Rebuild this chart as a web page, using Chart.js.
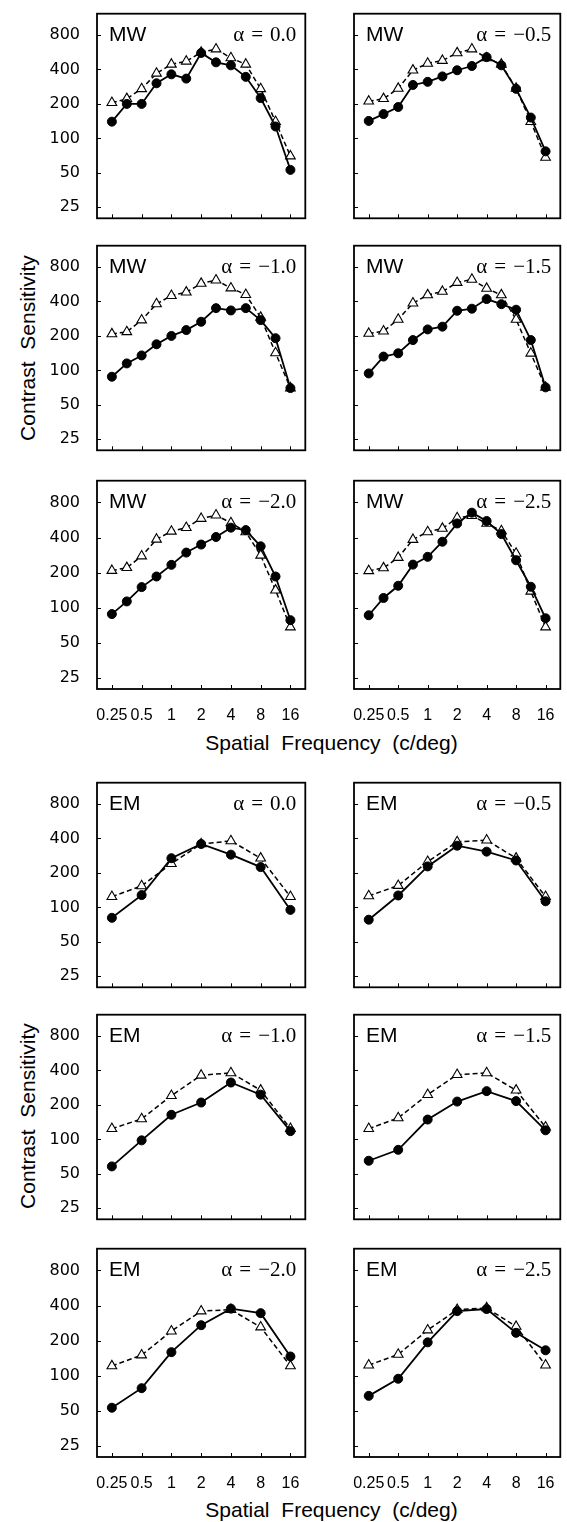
<!DOCTYPE html>
<html>
<head>
<meta charset="utf-8">
<script src="https://cdn.jsdelivr.net/npm/chart.js@4.4.1/dist/chart.umd.min.js"></script>
<style>
  html, body { margin: 0; padding: 0; background: #fff; }
  #fig { position: relative; width: 567px; height: 1522px; background: #fff; overflow: hidden; }
  #fig canvas { position: absolute; }
  .title { position: absolute; font-family: "Liberation Sans", Arial, sans-serif; font-size: 21px; line-height: 24px; color: #000; white-space: nowrap; text-align: center; word-spacing: 6px; }
  .ytitle { width: 300px; height: 24px; transform: rotate(-90deg); }
</style>
</head>
<body>
<div id="fig">
  <div class="title" style="left:97px; width:469px; top:731px;">Spatial Frequency (c/deg)</div>
  <div class="title" style="left:97px; width:469px; top:1498px;">Spatial Frequency (c/deg)</div>
  <div class="title ytitle" style="left:-122px; top:336px;">Contrast Sensitivity</div>
  <div class="title ytitle" style="left:-122px; top:1104px;">Contrast Sensitivity</div>
</div>
<script>
// spatial frequencies (c/deg)
const mwFreqs = [0.25, 0.354, 0.5, 0.707, 1, 1.414, 2, 2.828, 4, 5.657, 8, 11.31, 16];
const emFreqs = [0.25, 0.5, 1, 2, 4, 8, 16];

const xTickValues = [0.25, 0.5, 1, 2, 4, 8, 16];
const xTickLabels = ['0.25', '0.5', '1', '2', '4', '8', '16'];
const yTickValues = [25, 50, 100, 200, 400, 800];

// MW: filled circles (solid line) and open triangles (dashed line)
const mwA00Filled = [140, 200, 200, 303, 363, 333, 558, 462, 435, 345, 225, 127, 53];
const mwA00Open   = [205, 222, 271, 370, 444, 472, 565, 603, 505, 444, 271, 140, 70];
const mwA05Filled = [142, 163, 188, 293, 312, 348, 394, 429, 513, 435, 271, 152, 77];
const mwA05Open   = [211, 222, 273, 394, 452, 479, 558, 603, 505, 444, 273, 140, 68];
const mwA10Filled = [88, 115, 135, 169, 200, 225, 266, 350, 334, 350, 275, 191, 70];
const mwA10Open   = [208, 217, 275, 381, 450, 482, 575, 615, 524, 459, 290, 142, 70];
const mwA15Filled = [94, 132, 141, 184, 228, 241, 332, 346, 420, 379, 339, 184, 71];
const mwA15Open   = [210, 220, 279, 387, 456, 489, 585, 624, 520, 456, 279, 141, 71];
const mwA20Filled = [88, 113, 150, 185, 233, 297, 348, 404, 486, 463, 336, 185, 78];
const mwA20Open   = [208, 220, 277, 386, 452, 486, 582, 622, 534, 447, 281, 141, 68];
const mwA25Filled = [86, 121, 154, 234, 273, 368, 528, 654, 554, 428, 255, 151, 81];
const mwA25Open   = [207, 219, 269, 384, 447, 478, 590, 615, 528, 456, 292, 138, 68];

// EM
const emA00Filled = [81, 128, 269, 358, 289, 225, 95];
const emA00Open   = [124, 154, 241, 358, 381, 269, 124];
const emA05Filled = [78, 127, 228, 346, 307, 257, 113];
const emA05Open   = [126, 155, 251, 374, 387, 269, 124];
const emA10Filled = [58, 98, 164, 210, 314, 246, 118];
const emA10Open   = [124, 151, 241, 363, 381, 269, 124];
const emA15Filled = [65, 81, 149, 214, 264, 216, 120];
const emA15Open   = [124, 154, 246, 368, 381, 269, 128];
const emA20Filled = [53, 78, 159, 271, 376, 344, 146];
const emA20Open   = [121, 150, 241, 358, 368, 261, 121];
const emA25Filled = [67, 94, 193, 358, 373, 233, 165];
const emA25Open   = [123, 152, 246, 368, 381, 264, 123];

const rowTops = [13, 245, 480, 782, 1014, 1248];
const plotH = 209;

const sp = '\u2004';
const panels = [
  { group: 'MW', alpha: '0.0',  row: 0, col: 0, freqs: mwFreqs, filled: mwA00Filled, open: mwA00Open },
  { group: 'MW', alpha: '−0.5', row: 0, col: 1, freqs: mwFreqs, filled: mwA05Filled, open: mwA05Open },
  { group: 'MW', alpha: '−1.0', row: 1, col: 0, freqs: mwFreqs, filled: mwA10Filled, open: mwA10Open },
  { group: 'MW', alpha: '−1.5', row: 1, col: 1, freqs: mwFreqs, filled: mwA15Filled, open: mwA15Open },
  { group: 'MW', alpha: '−2.0', row: 2, col: 0, freqs: mwFreqs, filled: mwA20Filled, open: mwA20Open },
  { group: 'MW', alpha: '−2.5', row: 2, col: 1, freqs: mwFreqs, filled: mwA25Filled, open: mwA25Open },
  { group: 'EM', alpha: '0.0',  row: 3, col: 0, freqs: emFreqs, filled: emA00Filled, open: emA00Open },
  { group: 'EM', alpha: '−0.5', row: 3, col: 1, freqs: emFreqs, filled: emA05Filled, open: emA05Open },
  { group: 'EM', alpha: '−1.0', row: 4, col: 0, freqs: emFreqs, filled: emA10Filled, open: emA10Open },
  { group: 'EM', alpha: '−1.5', row: 4, col: 1, freqs: emFreqs, filled: emA15Filled, open: emA15Open },
  { group: 'EM', alpha: '−2.0', row: 5, col: 0, freqs: emFreqs, filled: emA20Filled, open: emA20Open },
  { group: 'EM', alpha: '−2.5', row: 5, col: 1, freqs: emFreqs, filled: emA25Filled, open: emA25Open }
];

// frame, inward ticks and panel labels
const panelFrame = {
  id: 'panelFrame',
  afterDraw(chart, args, opts) {
    const { ctx, chartArea: a } = chart;
    const x = chart.scales.x, y = chart.scales.y;
    ctx.save();
    ctx.strokeStyle = '#000';
    ctx.lineWidth = 1.8;
    ctx.strokeRect(a.left, a.top, a.right - a.left, a.bottom - a.top);

    ctx.lineWidth = 1;
    ctx.beginPath();
    y.ticks.forEach(t => {
      const py = Math.round(y.getPixelForValue(t.value)) + 0.5;
      ctx.moveTo(a.left, py);
      ctx.lineTo(a.left + 4, py);
    });
    x.ticks.forEach(t => {
      const px = Math.round(x.getPixelForValue(t.value)) + 0.5;
      ctx.moveTo(px, a.bottom);
      ctx.lineTo(px, a.bottom - 4);
    });
    ctx.stroke();

    ctx.fillStyle = '#000';
    ctx.textBaseline = 'alphabetic';
    ctx.textAlign = 'left';
    ctx.font = '21px "Liberation Sans", Arial, sans-serif';
    ctx.fillText(opts.group, a.left + 12, a.top + 27);
    ctx.textAlign = 'right';
    ctx.font = '21px "Liberation Serif", "Times New Roman", serif';
    ctx.fillText('α' + sp + '=' + sp + opts.alpha, a.right - 9, a.top + 27);
    ctx.restore();
  }
};

function toPoints(freqs, vals) {
  return freqs.map((f, i) => ({ x: f, y: vals[i] }));
}

const fig = document.getElementById('fig');

panels.forEach(p => {
  const left = p.col === 0;
  const showX = p.row === 2 || p.row === 5;
  const xh = showX ? 40 : 3;
  const padTop = 6;

  const canvas = document.createElement('canvas');
  const w = left ? 312 : 255;
  const h = padTop + plotH + xh;
  canvas.width = w;
  canvas.height = h;
  canvas.style.width = w + 'px';
  canvas.style.height = h + 'px';
  canvas.style.left = (left ? 0 : 312) + 'px';
  canvas.style.top = (rowTops[p.row] - padTop) + 'px';
  fig.appendChild(canvas);

  new Chart(canvas, {
    type: 'line',
    data: {
      datasets: [
        {
          data: toPoints(p.freqs, p.filled),
          borderColor: '#000',
          borderWidth: 1.8,
          pointStyle: 'circle',
          pointRadius: 4.5,
          pointBackgroundColor: '#000',
          pointBorderColor: '#000',
          pointBorderWidth: 1,
          tension: 0
        },
        {
          data: toPoints(p.freqs, p.open),
          borderColor: '#000',
          borderWidth: 1.5,
          borderDash: [5, 3],
          pointStyle: 'triangle',
          pointRadius: 5.6,
          pointBackgroundColor: '#fff',
          pointBorderColor: '#000',
          pointBorderWidth: 1.1,
          tension: 0
        }
      ]
    },
    options: {
      responsive: false,
      animation: false,
      devicePixelRatio: 1,
      layout: { padding: { top: padTop, right: left ? 4 : 2, left: 0, bottom: 0 } },
      plugins: {
        legend: { display: false },
        tooltip: { enabled: false },
        panelFrame: { group: p.group, alpha: p.alpha }
      },
      scales: {
        x: {
          type: 'logarithmic',
          min: 0.25 / Math.SQRT2,
          max: 16 * Math.SQRT2,
          grid: { display: false },
          border: { display: false },
          afterBuildTicks: s => { s.ticks = xTickValues.map(v => ({ value: v })); },
          afterFit: s => { s.height = xh; s.paddingLeft = 0; s.paddingRight = 0; },
          ticks: {
            display: showX,
            autoSkip: false,
            maxRotation: 0,
            padding: 9,
            color: '#000',
            font: { family: '"Liberation Sans", Arial, sans-serif', size: 16 },
            callback: v => xTickLabels[xTickValues.indexOf(v)]
          }
        },
        y: {
          type: 'logarithmic',
          min: 20,
          max: 1230,
          grid: { display: false },
          border: { display: false },
          afterBuildTicks: s => { s.ticks = yTickValues.map(v => ({ value: v })); },
          afterFit: s => { s.width = left ? 97 : 42; s.paddingTop = 0; s.paddingBottom = 0; },
          ticks: {
            display: left,
            padding: 9,
            color: '#000',
            font: { family: '"DejaVu Sans", sans-serif', size: 16 },
            callback: v => String(v)
          }
        }
      }
    },
    plugins: [panelFrame]
  });
});
</script>
</body>
</html>
